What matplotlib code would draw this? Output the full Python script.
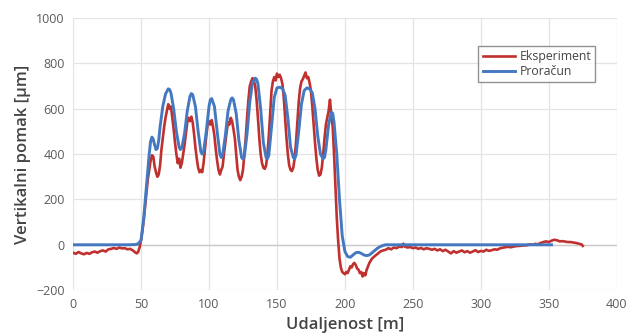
import matplotlib
matplotlib.use("Agg")
import matplotlib.pyplot as plt

plt.rcParams['font.family'] = ['Open Sans', 'DejaVu Sans']

# Proračun (calculation)
calc_x = [0, 10, 20, 30, 40, 46, 48, 50, 52, 54, 56, 57, 58, 59, 60, 61, 62, 63, 64, 66, 68, 70, 71, 72,
          74, 76, 78, 79, 80, 82, 84, 86, 87, 88, 90, 92, 94, 95, 96, 98, 100, 101, 102, 104, 106, 108,
          109, 110, 112, 114, 116, 117, 118, 120, 122, 124, 125, 126, 128, 130, 132, 134, 135, 136, 138,
          140, 142, 143, 144, 146, 148, 150, 152, 154, 156, 158, 160, 162, 163, 164, 166, 168, 170, 172,
          174, 176, 178, 180, 182, 184, 185, 186, 188, 190, 191, 192, 194, 196, 198, 200, 202, 204, 206,
          208, 210, 212, 214, 216, 218, 220, 222, 224, 226, 228, 230, 240, 260, 300, 340, 352]
calc_y = [0, 0, 0, 0, 0, 1, 5, 20, 120, 260, 400, 455, 475, 465, 440, 420, 425, 460, 520, 610, 665, 688, 685, 670,
          600, 500, 430, 420, 428, 490, 590, 655, 667, 662, 610, 500, 410, 400, 410, 500, 610, 640, 645, 610, 500, 400,
          385, 395, 480, 590, 640, 648, 640, 580, 460, 385, 378, 390, 490, 630, 715, 735, 730, 710, 600,
          450, 385, 380, 395, 520, 650, 692, 695, 690, 660, 560, 430, 385, 380, 395, 500, 620, 680, 692,
          688, 670, 600, 480, 400, 380, 385, 420, 530, 585, 580, 540, 400, 200, 40, -30, -52, -55, -45,
          -35, -33, -38, -45, -48, -45, -35, -25, -15, -8, -3, 0, 0, 0, 0, 0, 0]

# Eksperiment (measurement)
exp_x = [0, 2, 4, 6, 8, 10, 12, 14, 16, 18, 20, 22, 24, 26, 28, 30, 32, 34, 36, 38, 40, 42, 44, 46, 47, 48, 49,
         50, 51, 52, 53, 54, 55, 56, 57, 58, 59, 60, 61, 62, 63, 64, 65, 66, 67, 68, 69, 70, 71, 72, 73, 74, 75,
         76, 77, 78, 79, 80, 81, 82, 83, 84, 85, 86, 87, 88, 89, 90, 91, 92, 93, 94, 95, 96, 97, 98, 99, 100,
         101, 102, 103, 104, 105, 106, 107, 108, 109, 110, 111, 112, 113, 114, 115, 116, 117, 118, 119, 120,
         121, 122, 123, 124, 125, 126, 127, 128, 129, 130, 131, 132, 133, 134, 135, 136, 137, 138, 139, 140,
         141, 142, 143, 144, 145, 146, 147, 148, 149, 150, 151, 152, 153, 154, 155, 156, 157, 158, 159, 160,
         161, 162, 163, 164, 165, 166, 167, 168, 169, 170, 171, 172, 173, 174, 175, 176, 177, 178, 179, 180,
         181, 182, 183, 184, 185, 186, 187, 188, 189, 190, 191, 192, 193, 194, 195, 196, 197, 198, 199, 200,
         201, 202, 203, 204, 205, 206, 207, 208, 209, 210, 211, 212, 213, 214, 215, 216, 217, 218, 219, 220,
         222, 224, 226, 228, 230, 232, 234, 236, 238, 240, 242, 243, 244, 246, 248, 250, 252, 254, 256, 258,
         260, 262, 264, 266, 268, 270, 272, 274, 276, 278, 280, 282, 284, 286, 288, 290, 292, 294, 296, 298,
         300, 302, 304, 306, 308, 310, 312, 314, 316, 318, 320, 322, 324, 326, 328, 330, 332, 334, 336, 338,
         340, 342, 344, 346, 348, 350, 352, 354, 356, 358, 360, 362, 364, 366, 368, 370, 372, 374, 375]
exp_y = [-35, -40, -32, -38, -42, -36, -40, -33, -30, -35, -28, -25, -30, -20, -18, -14, -18, -12, -16, -15, -20,
         -18, -25, -35, -38, -30, -10,
         20, 60, 110, 170, 230, 290, 330, 370, 395, 390, 345, 320, 300, 310, 350, 420, 470, 520, 560, 590, 620,
         600, 610, 560, 510, 450,
         400, 360, 380, 340, 360, 400, 440, 490, 540, 560, 545, 565, 540, 490, 430, 380, 340, 320, 330, 320,
         360, 420, 480, 530, 545,
         530, 550, 520, 480, 420, 370, 330, 310, 330, 345, 400, 450, 500, 540, 530, 560, 545, 510, 470, 400,
         330, 300, 285, 300, 330, 400, 470, 560, 640, 700, 720, 735, 725, 700, 640, 560, 470, 400, 360, 340,
         335, 350, 400, 480, 580, 680, 720, 740, 725, 755, 740, 750, 735, 710, 650, 560, 470, 400, 350, 330,
         325, 340, 380, 450, 540, 630, 690, 720, 730, 745, 760, 735, 740, 715, 680, 610, 530, 450, 380, 330,
         305, 310, 340, 400, 470, 530, 560, 590, 640, 570, 520, 400, 260, 120, 20, -60, -100, -120, -125, -130,
         -120, -125, -110, -95, -100, -85, -80, -90, -105, -110, -125, -120, -140, -125, -135, -110, -95, -80,
         -70, -60,
         -50, -40, -30, -25, -22, -15, -20, -12, -15, -8, -10, 5, -8, -12, -10, -15, -12, -18, -14, -20,
         -15, -18, -22, -18, -25, -20, -28, -22, -30, -38, -28, -35, -30, -25, -33, -28, -35, -30, -24, -32,
         -27, -30, -22, -27, -24, -20, -22, -16, -13, -11, -9, -11, -8, -6, -5, -4, -3, -2, 2, 0,
         4, 2, 8, 12, 15, 12, 18, 22, 20, 15, 16, 14, 12, 12, 10, 8, 5, 2, -5]

x_ticks = [0, 50, 100, 150, 200, 250, 300, 350, 400]
y_ticks = [-200, 0, 200, 400, 600, 800, 1000]

fig = plt.figure(figsize=(6.3, 3.35), dpi=100)
ax = fig.add_axes([0.116, 0.134, 0.863, 0.812])

red = '#c0302e'
blue = '#4479c1'
ax.plot(exp_x, exp_y, color=red, lw=1.9, label='Eksperiment', zorder=3)
ax.plot(calc_x, calc_y, color=blue, lw=2.1, label='Proračun', zorder=4)

ax.set_xlim(0, 400)
ax.set_ylim(-200, 1000)
ax.set_xticks(x_ticks)
ax.set_yticks(y_ticks)
ax.grid(True, color='#e4e4e4', lw=0.9)
ax.set_axisbelow(True)
ax.axhline(0, color='#cfc8c8', lw=1.0, zorder=1)
for s in ax.spines.values():
    s.set_visible(False)
ax.tick_params(length=0, labelsize=9, colors='#5a5a5a', pad=6)

ax.set_xlabel('Udaljenost [m]', fontsize=12, color='#444444', fontweight='semibold', labelpad=4)
ax.set_ylabel('Vertikalni pomak [\u03bcm]', fontsize=12, color='#444444', fontweight='semibold', labelpad=4)

leg = ax.legend(loc='upper right', bbox_to_anchor=(0.972, 0.92), fontsize=8.8, frameon=True, fancybox=False,
                handlelength=2.6, handletextpad=0.4, borderpad=0.35, labelspacing=0.15)
leg.get_frame().set_edgecolor('#777777')
leg.get_frame().set_linewidth(1.0)
for t in leg.get_texts():
    t.set_color('#444444')

fig.savefig('out.png', dpi=100)
